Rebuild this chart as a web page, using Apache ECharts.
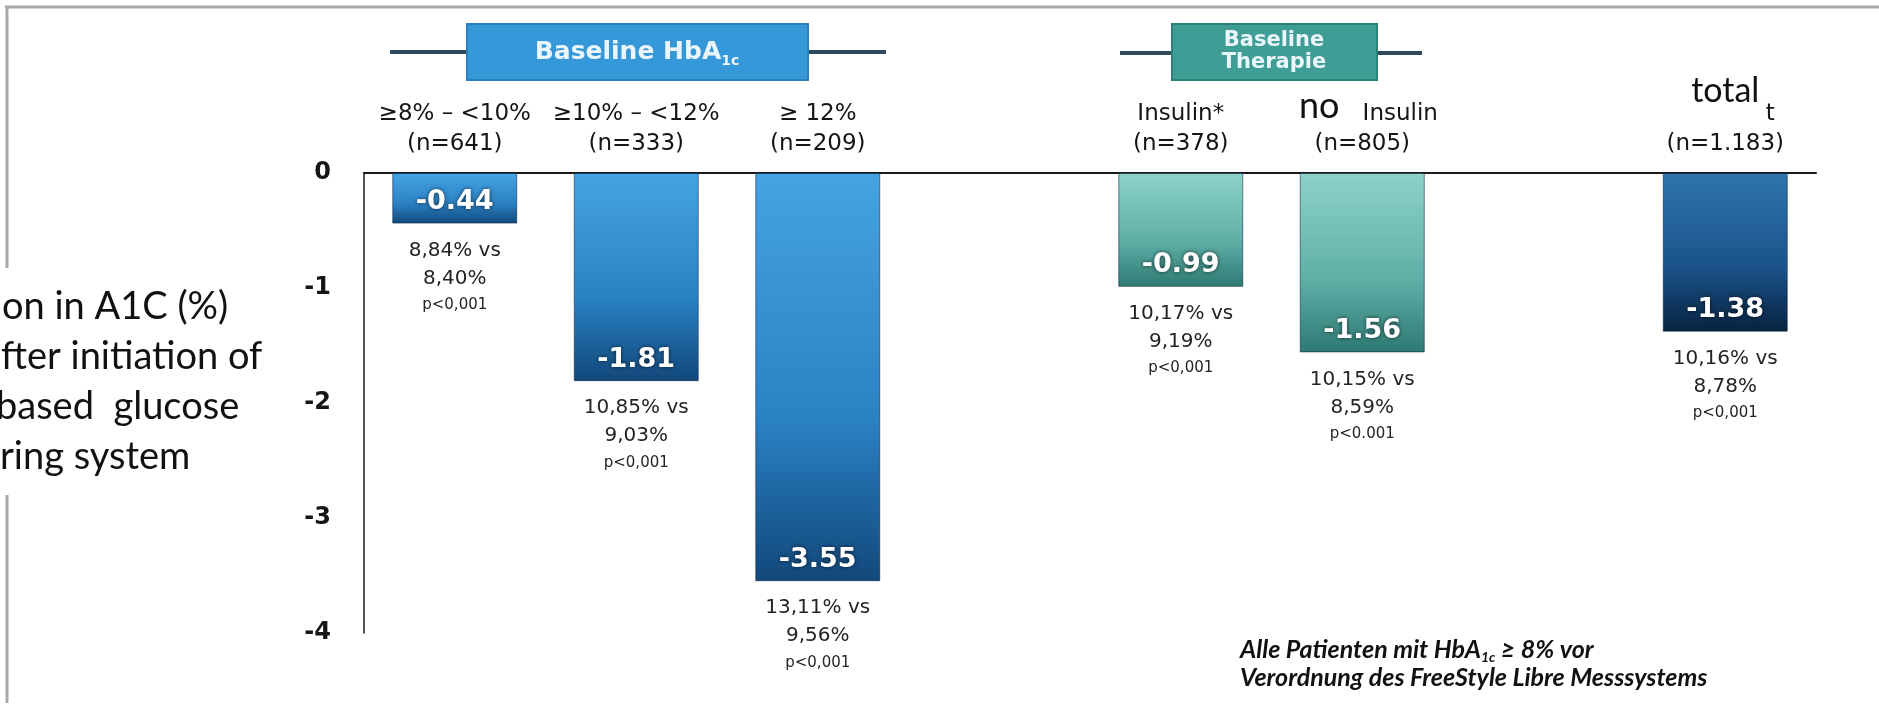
<!DOCTYPE html>
<html>
<head>
<meta charset="utf-8">
<script src="https://cdn.jsdelivr.net/npm/echarts@6/dist/echarts.min.js"></script>
<style>
  html, body { margin: 0; padding: 0; background: #ffffff; }
  #chart { width: 1879px; height: 714px; }
</style>
</head>
<body>
<div id="chart"></div>
<script>
// Category names (first label line), group sizes and HbA1c changes.
// Index 3 and 6 are empty slots that separate the three groups.
const categories = ['≥8% – <10%', '≥10% – <12%', '≥ 12%', '', 'Insulin*', 'Insulin', ' ', 't'];
const groupSizes = ['641', '333', '209', '', '378', '805', '', '1.183'];
const changes = [-0.44, -1.81, -3.55, null, -0.99, -1.56, null, -1.38];
const baselineValues = ['8,84%', '10,85%', '13,11%', '', '10,17%', '10,15%', '', '10,16%'];
const followUpValues = ['8,40%', '9,03%', '9,56%', '', '9,19%', '8,59%', '', '8,78%'];
const pValues = ['p<0,001', 'p<0,001', 'p<0,001', '', 'p<0,001', 'p<0.001', '', 'p<0,001'];
const barGroups = ['hba1c', 'hba1c', 'hba1c', null, 'therapy', 'therapy', null, 'total'];
const yTicks = [0, -1, -2, -3, -4];
const overlayWords = ['no', 'total'];
const captionLines = ['on in A1C (%)', 'fter initiation of', 'based  glucose', 'ring system'];

const FONT = 'DejaVu Sans';
const CALIBRI_LIKE = 'Lato';
const INK = '#151515';

const palettes = {
  hba1c:   ['#45a3e3', '#2a82c5', '#12487b'],
  therapy: ['#8dd2cb', '#5fafa7', '#2d7a73'],
  total:   ['#2f74ad', '#1b528a', '#07223f']
};

function barFill(group) {
  const c = palettes[group];
  return new echarts.graphic.LinearGradient(0, 0, 0, 1, [
    { offset: 0, color: c[0] },
    { offset: 0.6, color: c[1] },
    { offset: 1, color: c[2] }
  ]);
}

const barData = changes.map((v, i) => v == null ? '-' : {
  value: v,
  itemStyle: {
    color: barFill(barGroups[i]),
    borderColor: 'rgba(8, 30, 60, 0.55)',
    borderWidth: 1
  }
});

const noteData = changes.map(v => v == null ? '-' : v);

// Horizontal shift (left padding) of the first label line for some categories
const firstLineStyle = { 5: 'shiftA', 7: 'shiftB' };

const chart = echarts.init(document.getElementById('chart'), null, { renderer: 'canvas' });

const labelBase = { fontFamily: FONT, fontSize: 23, lineHeight: 30, color: INK };

const option = {
  animation: false,
  backgroundColor: '#ffffff',
  grid: { left: 364, right: 63, top: 173, height: 460 },
  xAxis: {
    type: 'category',
    position: 'top',
    data: categories,
    axisLine: { show: true, lineStyle: { color: '#1a1a1a', width: 2 } },
    axisTick: { show: false },
    splitLine: { show: false },
    axisLabel: {
      interval: 0,
      margin: 14,
      color: INK,
      fontFamily: FONT,
      fontSize: 23,
      lineHeight: 30,
      formatter: (name, idx) => {
        if (!groupSizes[idx]) return '';
        const st = firstLineStyle[idx] || 'c';
        return '{' + st + '|' + name + '}\n{c|(n=' + groupSizes[idx] + ')}';
      },
      rich: {
        c: labelBase,
        shiftA: Object.assign({}, labelBase, { padding: [0, 0, 0, 76] }),
        shiftB: Object.assign({}, labelBase, { padding: [0, 0, 0, 90] })
      }
    }
  },
  yAxis: {
    type: 'value',
    min: yTicks[yTicks.length - 1],
    max: yTicks[0],
    interval: 1,
    axisLine: { show: true, lineStyle: { color: '#1a1a1a', width: 1.5 } },
    axisTick: { show: false },
    splitLine: { show: false },
    axisLabel: {
      margin: 33,
      fontFamily: FONT,
      fontWeight: 'bold',
      fontSize: 24,
      color: INK,
      formatter: v => String(v)
    }
  },
  series: [
    {
      name: 'change',
      type: 'bar',
      barWidth: 125,
      data: barData,
      label: {
        show: true,
        position: 'insideBottom',
        distance: 8,
        formatter: p => p.value.toFixed(2),
        fontFamily: FONT,
        fontWeight: 'bold',
        fontSize: 27,
        color: '#ffffff',
        textShadowColor: 'rgba(0, 0, 0, 0.65)',
        textShadowBlur: 4
      }
    },
    {
      name: 'note',
      type: 'bar',
      barWidth: 125,
      barGap: '-100%',
      silent: true,
      data: noteData,
      itemStyle: { color: 'rgba(0,0,0,0)' },
      label: {
        show: true,
        position: 'bottom',
        distance: 13,
        formatter: p => '{a|' + baselineValues[p.dataIndex] + ' vs}\n{a|' +
          followUpValues[p.dataIndex] + '}\n{p|' + pValues[p.dataIndex] + '}',
        rich: {
          a: { fontFamily: FONT, fontSize: 20, lineHeight: 28, color: '#242424' },
          p: { fontFamily: FONT, fontSize: 15, lineHeight: 25, color: '#242424' }
        }
      }
    }
  ]
};

chart.setOption(option);

// Pixel centres of the overlay words, taken from the category axis
const xNo = chart.convertToPixel({ xAxisIndex: 0 }, 5) - 43;
const xTotal = chart.convertToPixel({ xAxisIndex: 0 }, 7);

const headerText = '#eaf5fc';
const captionY = [307, 357, 407, 457];
const captionX = [2, 1, -4, 0];

const captionTexts = captionLines.map((t, i) => ({
  type: 'text', z: 11, x: captionX[i], y: captionY[i],
  style: { text: t, verticalAlign: 'middle', fontFamily: CALIBRI_LIKE, fontSize: 38, fill: '#111111' }
}));

chart.setOption({
  graphic: [
    // frame
    { type: 'line', z: 0, shape: { x1: 5, y1: 7, x2: 1879, y2: 7 }, style: { stroke: '#a9a9a9', lineWidth: 3 } },
    { type: 'line', z: 0, shape: { x1: 7, y1: 7, x2: 7, y2: 703 }, style: { stroke: '#a9a9a9', lineWidth: 3 } },

    // group header: Baseline HbA1c
    { type: 'line', shape: { x1: 390, y1: 52, x2: 886, y2: 52 }, style: { stroke: '#2e4a5c', lineWidth: 4 } },
    { type: 'rect', shape: { x: 467, y: 24, width: 341, height: 56 },
      style: { fill: '#3598d9', stroke: '#2a7fbd', lineWidth: 2 } },
    { type: 'text', x: 637, y: 52,
      style: {
        text: '{b|Baseline HbA}{s|1c}',
        align: 'center', verticalAlign: 'middle',
        rich: {
          b: { fontFamily: FONT, fontWeight: 'bold', fontSize: 25, lineHeight: 32, fill: headerText },
          s: { fontFamily: FONT, fontWeight: 'bold', fontSize: 14, lineHeight: 14, verticalAlign: 'bottom', fill: headerText }
        }
      } },

    // group header: Baseline Therapie
    { type: 'line', shape: { x1: 1120, y1: 53, x2: 1422, y2: 53 }, style: { stroke: '#2e4a5c', lineWidth: 4 } },
    { type: 'rect', shape: { x: 1172, y: 24, width: 205, height: 56 },
      style: { fill: '#3e9d95', stroke: '#2f8078', lineWidth: 2 } },
    { type: 'text', x: 1274, y: 52,
      style: {
        text: 'Baseline\nTherapie', align: 'center', verticalAlign: 'middle',
        fontFamily: FONT, fontWeight: 'bold', fontSize: 21, lineHeight: 22, fill: headerText
      } },

    // overlay words above the category labels
    { type: 'text', x: xNo, y: 124,
      style: { text: overlayWords[0], align: 'center', verticalAlign: 'bottom',
        fontFamily: CALIBRI_LIKE, fontSize: 36, fill: '#111111' } },
    { type: 'text', x: xTotal, y: 108,
      style: { text: overlayWords[1], align: 'center', verticalAlign: 'bottom',
        fontFamily: CALIBRI_LIKE, fontSize: 34, fill: '#111111' } },

    // side caption box
    { type: 'rect', z: 10, shape: { x: 0, y: 268, width: 288, height: 227 }, style: { fill: '#ffffff' } }
  ].concat(captionTexts, [
    // footnote
    { type: 'text', x: 1240, y: 636,
      style: {
        text: '{i|Alle Patienten mit HbA}{s|1c}{i| ≥ 8% vor}\n{i|Verordnung des FreeStyle Libre Messsystems}',
        align: 'left', verticalAlign: 'top',
        rich: {
          i: { fontFamily: CALIBRI_LIKE, fontStyle: 'italic', fontWeight: 'bold', fontSize: 25, lineHeight: 28, fill: '#111111' },
          s: { fontFamily: CALIBRI_LIKE, fontStyle: 'italic', fontWeight: 'bold', fontSize: 14, lineHeight: 12, verticalAlign: 'bottom', fill: '#111111' }
        }
      } }
  ])
});
</script>
</body>
</html>
